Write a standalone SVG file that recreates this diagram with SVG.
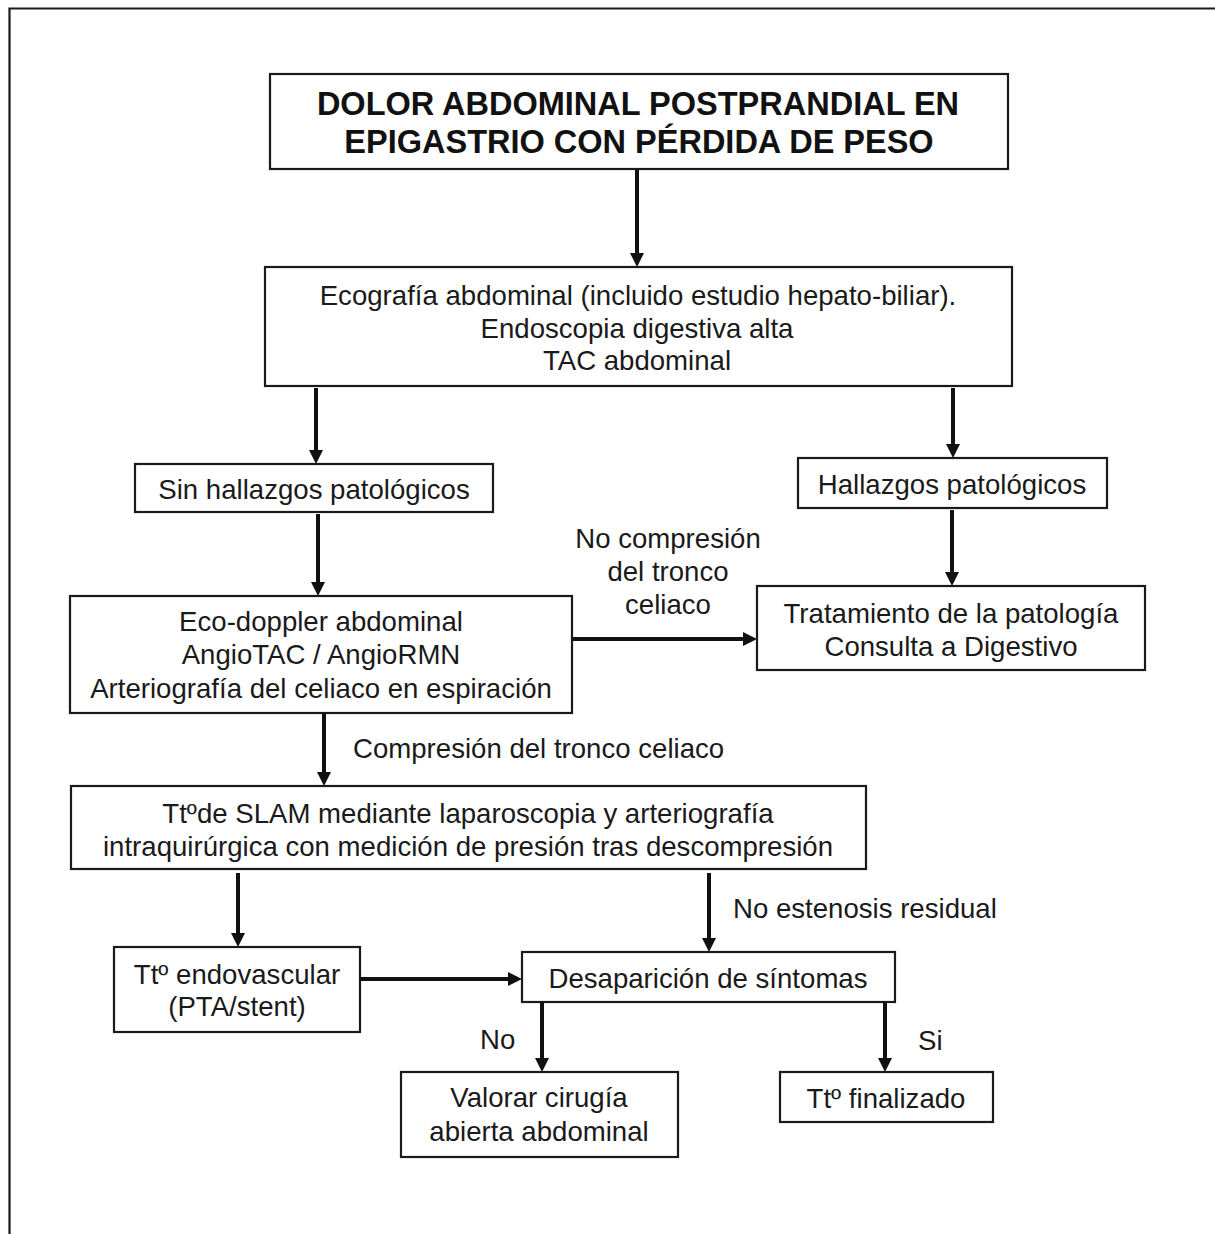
<svg xmlns="http://www.w3.org/2000/svg" width="1215" height="1234" viewBox="0 0 1215 1234">
  <style>
    .box { fill: #ffffff; stroke: #1a1a1a; stroke-width: 2.2; }
    .t { font-family: "Liberation Sans", Arial, sans-serif; font-size: 27.6px; fill: #1a1a1a; text-anchor: middle; }
    .tl { text-anchor: start; }
    .title { font-weight: bold; font-size: 32.5px; fill: #111111; }
    .conn line { stroke: #111111; stroke-width: 4; marker-end: url(#arrow); }
  </style>
  <defs>
    <marker id="arrow" markerUnits="userSpaceOnUse" markerWidth="14" markerHeight="14" refX="4" refY="7" orient="auto">
      <path d="M0,0 L14,7 L0,14 z" fill="#111111"/>
    </marker>
  </defs>

  <rect width="1215" height="1234" fill="#ffffff"/>
  <!-- page frame (open at right and bottom) -->
  <path d="M9.5,1234 V8.5 H1215" fill="none" stroke="#1a1a1a" stroke-width="2.2"/>

  <g id="title">
    <rect class="box" x="270" y="74" width="738" height="95"/>
    <text class="t title" x="638" y="115">DOLOR ABDOMINAL POSTPRANDIAL EN</text>
    <text class="t title" x="639" y="153">EPIGASTRIO CON PÉRDIDA DE PESO</text>
  </g>

  <g id="pruebas">
    <rect class="box" x="265" y="267" width="747" height="119"/>
    <text class="t" x="638" y="305">Ecografía abdominal (incluido estudio hepato-biliar).</text>
    <text class="t" x="637" y="338">Endoscopia digestiva alta</text>
    <text class="t" x="637" y="370">TAC abdominal</text>
  </g>

  <g id="sin-hallazgos">
    <rect class="box" x="135" y="464" width="358" height="48"/>
    <text class="t" x="314" y="499">Sin hallazgos patológicos</text>
  </g>

  <g id="hallazgos">
    <rect class="box" x="798" y="458" width="309" height="50"/>
    <text class="t" x="952" y="494">Hallazgos patológicos</text>
  </g>

  <g id="tratamiento">
    <rect class="box" x="757" y="586" width="388" height="84"/>
    <text class="t" x="951" y="623">Tratamiento de la patología</text>
    <text class="t" x="951" y="656">Consulta a Digestivo</text>
  </g>

  <g id="eco-doppler">
    <rect class="box" x="70" y="596" width="502" height="117"/>
    <text class="t" x="321" y="631">Eco-doppler abdominal</text>
    <text class="t" x="321" y="664">AngioTAC / AngioRMN</text>
    <text class="t" x="321" y="698">Arteriografía del celiaco en espiración</text>
  </g>

  <g id="slam">
    <rect class="box" x="71" y="786" width="795" height="83"/>
    <text class="t" x="468" y="823">Ttºde SLAM mediante laparoscopia y arteriografía</text>
    <text class="t" x="468" y="856">intraquirúrgica con medición de presión tras descompresión</text>
  </g>

  <g id="endovascular">
    <rect class="box" x="114" y="947" width="246" height="85"/>
    <text class="t" x="237" y="984">Ttº endovascular</text>
    <text class="t" x="237" y="1016">(PTA/stent)</text>
  </g>

  <g id="desaparicion">
    <rect class="box" x="522" y="952" width="373" height="50"/>
    <text class="t" x="708" y="988">Desaparición de síntomas</text>
  </g>

  <g id="valorar">
    <rect class="box" x="401" y="1072" width="277" height="85"/>
    <text class="t" x="539" y="1107">Valorar cirugía</text>
    <text class="t" x="539" y="1141">abierta abdominal</text>
  </g>

  <g id="finalizado">
    <rect class="box" x="780" y="1072" width="213" height="50"/>
    <text class="t" x="886" y="1108">Ttº finalizado</text>
  </g>

  <g id="connectors" class="conn">
    <line x1="637" y1="169" x2="637" y2="257"/>
    <line x1="316" y1="388" x2="316" y2="454"/>
    <line x1="953" y1="388" x2="953" y2="448"/>
    <line x1="952" y1="510" x2="952" y2="576"/>
    <line x1="318" y1="514" x2="318" y2="586"/>
    <line x1="572" y1="639" x2="747" y2="639"/>
    <line x1="324" y1="713" x2="324" y2="776"/>
    <line x1="238" y1="873" x2="238" y2="937"/>
    <line x1="709" y1="873" x2="709" y2="942"/>
    <line x1="360" y1="979" x2="512" y2="979"/>
    <line x1="542" y1="1002" x2="542" y2="1062"/>
    <line x1="885" y1="1002" x2="885" y2="1062"/>
  </g>

  <g id="labels">
    <text class="t" x="668" y="548">No compresión</text>
    <text class="t" x="668" y="581">del tronco</text>
    <text class="t" x="668" y="614">celiaco</text>
    <text class="t tl" x="353" y="758">Compresión del tronco celiaco</text>
    <text class="t tl" x="733" y="918">No estenosis residual</text>
    <text class="t tl" x="480" y="1049">No</text>
    <text class="t tl" x="918" y="1050">Si</text>
  </g>
</svg>
